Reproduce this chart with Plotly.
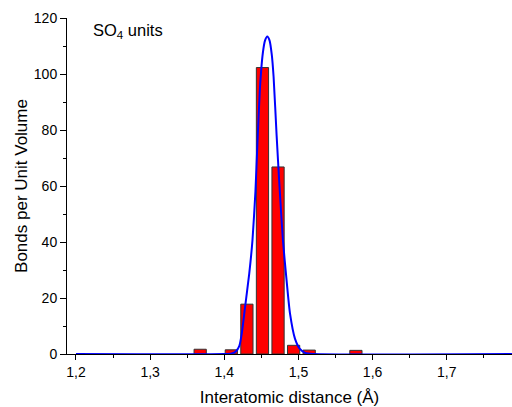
import plotly.graph_objects as go

# Histogram bars (bin centers, heights)
bar_x = [1.3675, 1.4095, 1.4305, 1.4515, 1.4725, 1.4935, 1.5145, 1.5775]
bar_y = [1.7, 1.5, 17.8, 102.3, 66.8, 3.1, 1.4, 1.3]

# Fitted curve, points
curve_x = [1.200, 1.400, 1.410, 1.4158, 1.4202, 1.4234, 1.4279, 1.4337, 1.4380,
           1.4420, 1.4445, 1.4481, 1.4520, 1.4550, 1.4580, 1.4610, 1.4640, 1.4665,
           1.4706, 1.4744, 1.4791, 1.4841, 1.4886, 1.4953, 1.5020, 1.5090, 1.5200, 1.7880]
curve_y = [0.0, 0.0, 0.2, 1.0, 2.8, 7.0, 16.5, 28.8, 40.6,
           58.0, 74.0, 95.0, 107.5, 112.0, 113.4, 112.0, 107.0, 99.0,
           78.0, 60.2, 40.6, 26.0, 14.5, 5.5, 1.8, 0.4, 0.0, 0.0]

x_tickvals = [1.2, 1.3, 1.4, 1.5, 1.6, 1.7]
x_ticktext = ["1,2", "1,3", "1,4", "1,5", "1,6", "1,7"]
y_tickvals = [0, 20, 40, 60, 80, 100, 120]
y_ticktext = ["0", "20", "40", "60", "80", "100", "120"]

fig = go.Figure()
fig.add_trace(go.Bar(
    x=bar_x, y=bar_y, width=0.0165,
    marker=dict(color="#FF0000", line=dict(color="#333333", width=1)),
    showlegend=False, hoverinfo="skip"))
fig.add_trace(go.Scatter(
    x=curve_x, y=curve_y, mode="lines",
    line=dict(color="#0000FF", width=2, shape="spline", smoothing=0.6),
    showlegend=False, hoverinfo="skip"))

font_family = "Liberation Sans, Arial, sans-serif"
fig.update_layout(
    width=512, height=407,
    margin=dict(l=67, r=0, t=17.5, b=53, pad=0),
    paper_bgcolor="white", plot_bgcolor="white",
    font=dict(family=font_family, size=14, color="black"),
    annotations=[dict(text="SO<sub>4</sub> units",
                      xref="x domain", yref="y domain",
                      x=(91 - 67) / 445, y=1 - (31 - 17.5) / 336.5,
                      xanchor="left", yanchor="middle",
                      showarrow=False, font=dict(size=16.5, family=font_family))],
)
fig.update_xaxes(
    range=[1.1879, 1.788], showgrid=False, zeroline=False,
    showline=True, linecolor="black", linewidth=1,
    tickmode="array", tickvals=x_tickvals, ticktext=x_ticktext,
    ticks="outside", ticklen=5, tickwidth=1, tickcolor="black",
    minor=dict(ticks="outside", dtick=0.05, tick0=1.2, ticklen=3, tickcolor="black"),
    title=dict(text="Interatomic distance (Å)", font=dict(size=17), standoff=12),
)
fig.update_yaxes(
    range=[0, 120], showgrid=False, zeroline=False,
    showline=True, linecolor="black", linewidth=1,
    tickmode="array", tickvals=y_tickvals, ticktext=y_ticktext,
    ticks="outside", ticklen=6, tickwidth=1, tickcolor="black",
    minor=dict(ticks="outside", dtick=10, ticklen=3, tickcolor="black"),
    title=dict(text="Bonds per Unit Volume", font=dict(size=17), standoff=1),
)

fig.write_html("out.html")
